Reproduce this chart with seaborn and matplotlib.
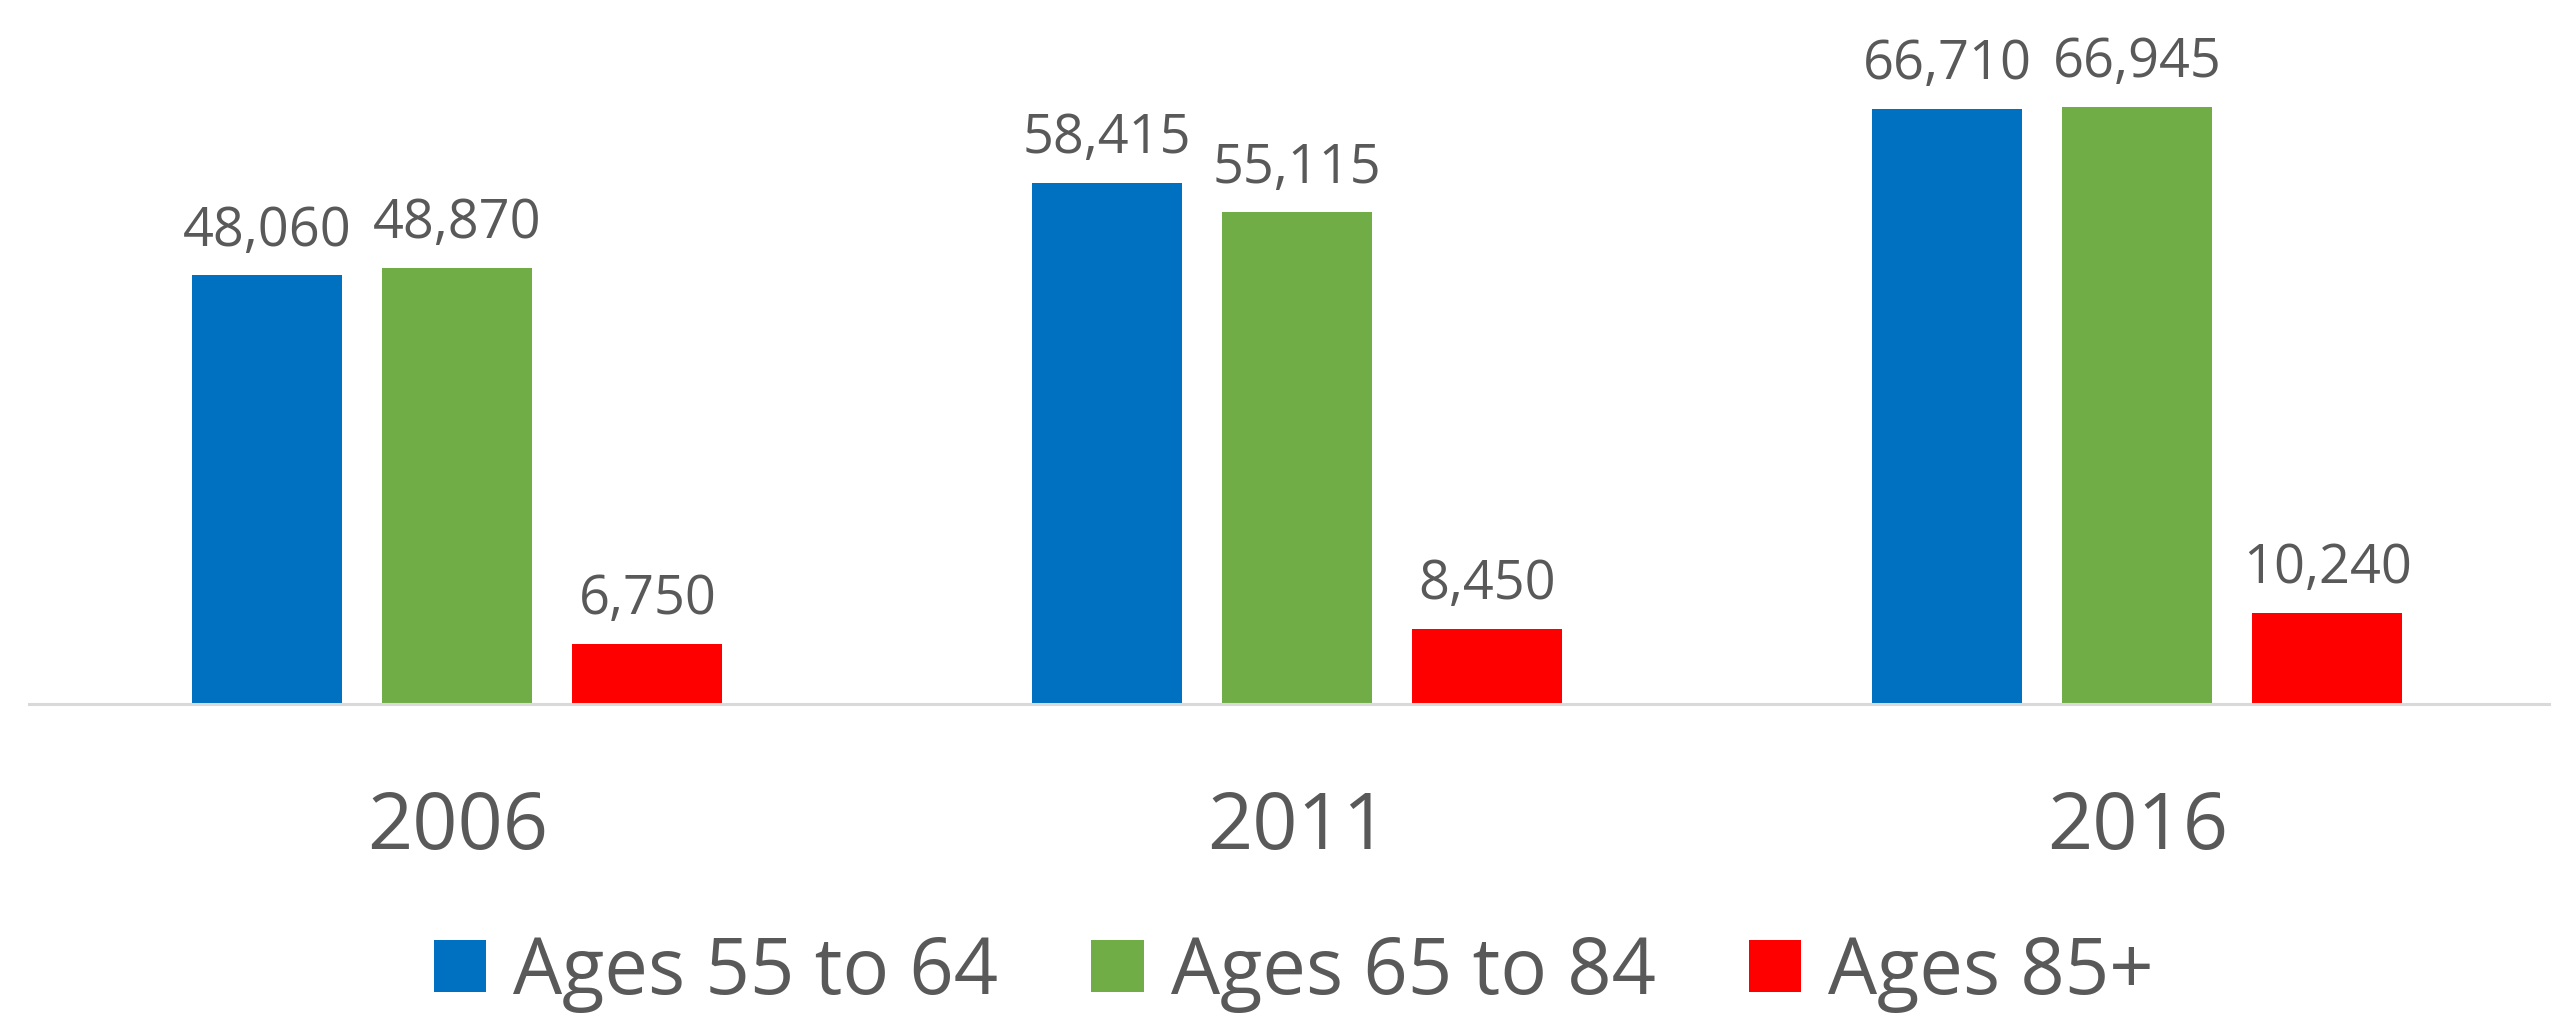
import matplotlib
matplotlib.use('Agg')
import matplotlib.pyplot as plt
import pandas as pd
import seaborn as sns

# data
years = ['2006', '2011', '2016']
groups = ['Ages 55 to 64', 'Ages 65 to 84', 'Ages 85+']
ages_55_64 = [48060, 58415, 66710]
ages_65_84 = [48870, 55115, 66945]
ages_85_up = [6750, 8450, 10240]

colors = ['#0070C0', '#70AD47', '#FF0000']
TEXT = '#595959'

df = pd.DataFrame({
    'year': years * 3,
    'group': [g for g in groups for _ in years],
    'value': ages_55_64 + ages_65_84 + ages_85_up,
})

sns.set_theme(style='white')
plt.rcParams['font.family'] = ['Open Sans', 'DejaVu Sans']

fig = plt.figure(figsize=(25.57, 10.21), dpi=100)
ax = fig.add_axes([0.0113, 0.3105, 0.9855, 0.6814])

sns.barplot(data=df, x='year', y='value', hue='group', hue_order=groups,
            palette=colors, width=0.679, gap=0.21, saturation=1,
            edgecolor='none', linewidth=0, ax=ax)

for cont in ax.containers:
    ax.bar_label(cont, fmt='{:,.0f}', padding=12, fontsize=39, color=TEXT)

ax.set_xlim(-0.51, 2.49)
ax.set_ylim(0, 78000)
ax.set_xlabel('')
ax.set_ylabel('')
ax.set_yticks([])
ax.tick_params(axis='x', length=0, pad=61, labelsize=57, labelcolor=TEXT)
for side in ['left', 'right', 'top']:
    ax.spines[side].set_visible(False)
ax.spines['bottom'].set_color('#D9D9D9')
ax.spines['bottom'].set_linewidth(2.2)

handles, labels = ax.get_legend_handles_labels()
ax.legend(handles, labels, ncol=3, loc='center', bbox_to_anchor=(0.506, 0.047),
          bbox_transform=fig.transFigure, frameon=False, fontsize=56,
          labelcolor=TEXT, handlelength=0.67, handleheight=0.64,
          handletextpad=0.35, columnspacing=1.2, borderpad=0)

fig.savefig('out.png', dpi=100)
